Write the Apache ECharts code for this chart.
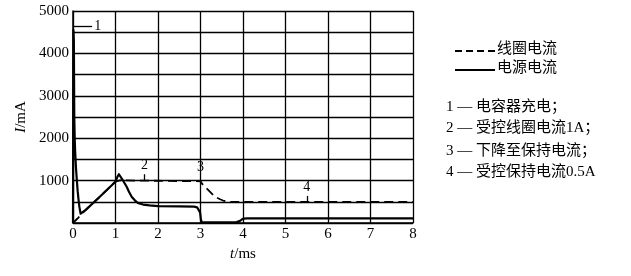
<!DOCTYPE html>
<html>
<head>
<meta charset="utf-8">
<script src="https://cdn.jsdelivr.net/npm/echarts@6/dist/echarts.min.js"></script>
<style>
html,body{margin:0;padding:0;background:#fff;}
#chart{width:631px;height:276px;}
</style>
</head>
<body>
<div id="chart"></div>
<script>
// time (ms), current (mA)
var supplyCurrent = [
  [0,0],[0.01,4550],[0.02,4300],[0.03,2500],[0.04,2000],[0.05,1700],[0.07,1300],[0.09,1015],
  [0.11,750],[0.13,550],[0.15,380],[0.18,220],[0.22,240],
  [0.3,310],[0.6,590],[0.9,880],[1.0,975],[1.04,1080],[1.08,1150],[1.12,1110],[1.19,980],[1.26,860],[1.32,730],[1.38,620],
  [1.46,530],[1.54,465],[1.65,435],[1.8,415],[2.0,400],[2.5,390],[2.85,385],[2.92,370],[2.96,330],[2.99,250],[3.01,80],[3.03,20],
  [3.5,15],[3.85,20],[3.92,45],[3.97,80],[4.02,105],[4.1,110],[8,110]
];
var coilCurrent = [
  [0,0],[0.1,100],[0.3,310],[0.6,590],[1.0,975],[1.1,1005],[1.5,1000],[2.5,990],[3.0,985],
  [3.05,910],[3.1,860],[3.14,820],[3.22,740],[3.3,660],[3.38,600],[3.46,560],[3.53,530],[3.6,510],[3.68,500],[3.75,495],[4,495],[8,495]
];
var seriesNames = ['线圈电流','电源电流'];
var notes = ['1 — 电容器充电；','2 — 受控线圈电流1A；','3 — 下降至保持电流；','4 — 受控保持电流0.5A'];
var annot1 = {label:'1', from:[0.02,4650], to:[0.45,4650]};
var annot2 = {label:'2', from:[1.68,1000], to:[1.68,1150]};
var annot3 = {label:'3', at:[3.0,1320]};
var annot4 = {label:'4', from:[5.5,495], to:[5.5,640]};

var serif = '"Liberation Serif","DejaVu Serif",serif';
var cjk = '"Liberation Serif","Noto Sans CJK SC",serif';
var chart = echarts.init(document.getElementById('chart'));
var ml = function(a){
  return [{coord:a.from, symbol:'none'},{coord:a.to, symbol:'none', label:{show:true, formatter:a.label}}];
};
var graphics = [
  {type:'line', shape:{x1:455,y1:51,x2:495,y2:51}, style:{stroke:'#000', lineWidth:1.8, lineDash:[7,4]}},
  {type:'text', left:497, top:42, style:{text:seriesNames[0], font:'15px '+cjk, fill:'#000'}},
  {type:'line', shape:{x1:455,y1:70,x2:495,y2:70}, style:{stroke:'#000', lineWidth:2.2}},
  {type:'text', left:497, top:61, style:{text:seriesNames[1], font:'15px '+cjk, fill:'#000'}}
];
notes.forEach(function(t,i){
  graphics.push({type:'text', left:446, top:[99,120,143,164][i]+1,
    style:{text:t, font:'15px '+cjk, fill:'#000'}});
});
chart.setOption({
  animation:false,
  backgroundColor:'#fff',
  grid:{left:73, right:218, top:11, bottom:53},
  xAxis:{
    type:'value', min:0, max:8, interval:1,
    name:'{i|t}/ms', nameLocation:'middle', nameGap:17,
    nameTextStyle:{fontFamily:serif, fontSize:15, color:'#000', rich:{i:{fontStyle:'italic', fontFamily:serif, fontSize:15}}},
    axisLine:{lineStyle:{color:'#000', width:1.5}},
    axisTick:{show:false},
    axisLabel:{fontFamily:serif, fontSize:15, color:'#000', margin:4},
    splitLine:{lineStyle:{color:'#000', width:1.3}}
  },
  yAxis:{
    type:'value', min:0, max:5000, interval:500,
    name:'{i|I}/mA', nameLocation:'middle', nameGap:41, nameRotate:90,
    nameTextStyle:{fontFamily:serif, fontSize:15, color:'#000', rich:{i:{fontStyle:'italic', fontFamily:serif, fontSize:15}}},
    axisLine:{show:true, lineStyle:{color:'#000', width:1.5}},
    axisTick:{show:false},
    axisLabel:{fontFamily:serif, fontSize:15, color:'#000', margin:4,
      formatter:function(v){return (v%1000===0 && v>0)? String(v) : '';}},
    splitLine:{lineStyle:{color:'#000', width:1.3}}
  },
  series:[
    {
      name:seriesNames[0], type:'line', data:coilCurrent, symbol:'none', z:3,
      lineStyle:{color:'#000', width:1.8, type:[9,5]},
      itemStyle:{color:'#000'},
      markLine:{silent:true, symbol:'none',
        lineStyle:{color:'#000', width:1.3, type:'solid'},
        label:{fontFamily:serif, fontSize:14, color:'#000', position:'end', distance:2},
        data:[ml(annot2), ml(annot4)]},
      markPoint:{silent:true, symbol:'circle', symbolSize:0,
        label:{show:true, formatter:annot3.label, fontFamily:serif, fontSize:14, color:'#000'},
        data:[{coord:annot3.at}]}
    },
    {
      name:seriesNames[1], type:'line', data:supplyCurrent, symbol:'none', z:4,
      lineStyle:{color:'#000', width:2.2, join:'round'},
      itemStyle:{color:'#000'},
      markLine:{silent:true, symbol:'none',
        lineStyle:{color:'#000', width:1.3, type:'solid'},
        label:{fontFamily:serif, fontSize:14, color:'#000', position:'end', distance:2},
        data:[ml(annot1)]}
    }
  ],
  graphic:graphics
});
</script>
</body>
</html>
